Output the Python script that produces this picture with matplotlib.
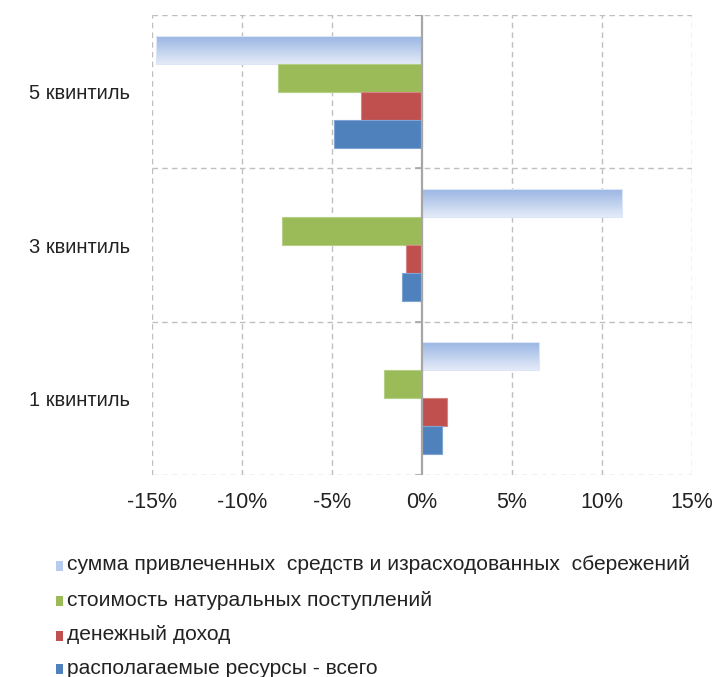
import numpy as np
import matplotlib
matplotlib.use("Agg")
import matplotlib.pyplot as plt
from matplotlib.patches import Rectangle
from matplotlib.colors import LinearSegmentedColormap
from matplotlib.ticker import FuncFormatter

plt.rcParams["font.family"] = ["Liberation Sans", "DejaVu Sans"]

# ----------------------------
# Data (percent change)
# ----------------------------
categories = ["1 квинтиль", "3 квинтиль", "5 квинтиль"]

series_names = [
    "сумма привлеченных  средств и израсходованных  сбережений",
    "стоимость натуральных поступлений",
    "денежный доход",
    "располагаемые ресурсы - всего",
]

borrowed = [6.5, 11.1, -14.8]
in_kind = [-2.1, -7.8, -8.0]
money_income = [1.4, -0.9, -3.4]
total_resources = [1.1, -1.1, -4.9]

values = [borrowed, in_kind, money_income, total_resources]
colors = ["#A9C0EA", "#9BBB59", "#C0504D", "#4F81BD"]
edges = ["#DCE6F6", "#B5CF86", "#D48684", "#7FA3D2"]
xticks = [-15, -10, -5, 0, 5, 10, 15]

# ----------------------------
# Figure
# ----------------------------
fig = plt.figure(figsize=(7.16, 6.77), dpi=100)
ax = fig.add_axes([152 / 716, 1 - 475 / 677, 540 / 716, 460 / 677])

y = np.arange(len(categories))
h = 0.183
offsets = [1.5 * h, 0.5 * h, -0.5 * h, -1.5 * h]

grad = LinearSegmentedColormap.from_list("lb", ["#E4EBF8", "#97B4E3"])
gradient = np.linspace(0, 1, 64).reshape(-1, 1)

for i, (vals, c, ec) in enumerate(zip(values, colors, edges)):
    bars = ax.barh(y + offsets[i], vals, height=h, color=c, edgecolor=ec,
                   linewidth=0.8, zorder=3)
    if i == 0:
        for b in bars:
            b.set_facecolor("none")
            x0, y0 = b.get_x(), b.get_y()
            w, hh = b.get_width(), b.get_height()
            im = ax.imshow(gradient, cmap=grad, aspect="auto", origin="lower",
                           extent=[min(x0, x0 + w), max(x0, x0 + w), y0, y0 + hh],
                           zorder=2.5)
            im.set_clip_path(b)

ax.set_xlim(-15, 15)
ax.set_ylim(-0.5, 2.5)

# grid
for xv in xticks:
    if xv != 0:
        ax.axvline(xv, color="#BFBFBF", lw=1, ls=(0, (4, 3)), zorder=1)
for yv in [-0.5, 0.5, 1.5, 2.5]:
    ax.axhline(yv, color="#BFBFBF", lw=1, ls=(0, (4, 3)), zorder=1)
ax.axvline(0, color="#A6A6A6", lw=1.6, zorder=4)
for yv in [-0.5, 0.5, 1.5, 2.5]:
    ax.plot([-0.35, 0], [yv, yv], color="#A6A6A6", lw=1.2, zorder=4)

for s in ax.spines.values():
    s.set_visible(False)

ax.set_xticks(xticks)
ax.xaxis.set_major_formatter(FuncFormatter(lambda v, p: f"{v:.0f}%"))
ax.set_yticks(y)
ax.set_yticklabels(categories)
ax.tick_params(axis="x", length=0, pad=12, labelsize=15.5, labelcolor="#222222")
ax.tick_params(axis="y", length=0, pad=16, labelsize=14.5, labelcolor="#222222")

# legend
leg_y = [565, 600, 635, 668]
for name, c, ly in zip(series_names, colors, leg_y):
    yf = 1 - ly / 677
    fc = "#B7CBEE" if c == colors[0] else c
    fig.patches.append(Rectangle((56 / 716, yf - 6 / 677), 7 / 716, 10 / 677,
                                 transform=fig.transFigure, facecolor=fc,
                                 edgecolor="none"))
    fig.text(67 / 716, yf, name, fontsize=15.1, color="#222222",
             va="center", ha="left")

fig.savefig("out.png", dpi=100)
